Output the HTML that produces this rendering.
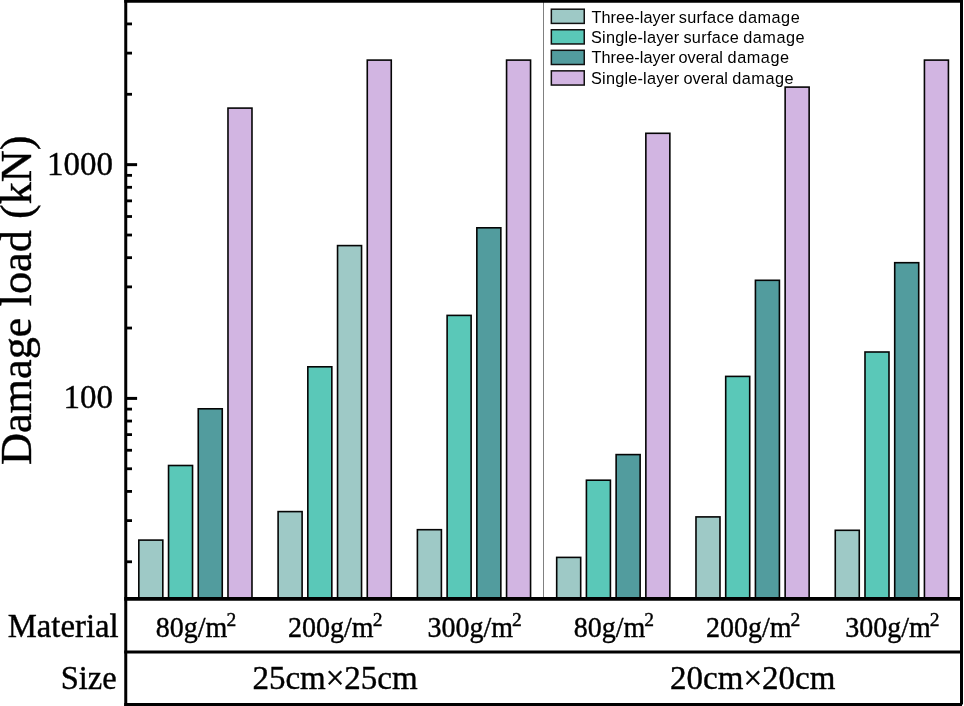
<!DOCTYPE html>
<html><head><meta charset="utf-8"><title>Damage load chart</title>
<style>html,body{margin:0;padding:0;background:#fff;}svg{display:block;will-change:transform;}text{font-family:"Liberation Serif",serif;fill:#000;}.ss{font-family:"Liberation Sans",sans-serif;}</style></head><body>
<svg width="964" height="706" viewBox="0 0 964 706">
<rect x="0" y="0" width="964" height="706" fill="#fff"/>
<line x1="543.5" y1="2" x2="543.5" y2="598" stroke="#808080" stroke-width="1"/>
<rect x="138.82" y="540.10" width="24.00" height="58.80" fill="#9EC9C6" stroke="#050505" stroke-width="1.6"/>
<rect x="168.54" y="465.50" width="24.00" height="133.40" fill="#5AC8B8" stroke="#050505" stroke-width="1.6"/>
<rect x="198.26" y="408.80" width="24.00" height="190.10" fill="#529C9E" stroke="#050505" stroke-width="1.6"/>
<rect x="227.98" y="108.10" width="24.00" height="490.80" fill="#D2B5E2" stroke="#050505" stroke-width="1.6"/>
<rect x="278.11" y="511.60" width="24.00" height="87.30" fill="#9EC9C6" stroke="#050505" stroke-width="1.6"/>
<rect x="307.83" y="366.80" width="24.00" height="232.10" fill="#5AC8B8" stroke="#050505" stroke-width="1.6"/>
<rect x="337.55" y="245.60" width="24.00" height="353.30" fill="#9EC9C6" stroke="#050505" stroke-width="1.6"/>
<rect x="367.27" y="60.10" width="24.00" height="538.80" fill="#D2B5E2" stroke="#050505" stroke-width="1.6"/>
<rect x="417.40" y="529.70" width="24.00" height="69.20" fill="#9EC9C6" stroke="#050505" stroke-width="1.6"/>
<rect x="447.12" y="315.40" width="24.00" height="283.50" fill="#5AC8B8" stroke="#050505" stroke-width="1.6"/>
<rect x="476.84" y="227.80" width="24.00" height="371.10" fill="#529C9E" stroke="#050505" stroke-width="1.6"/>
<rect x="506.56" y="60.10" width="24.00" height="538.80" fill="#D2B5E2" stroke="#050505" stroke-width="1.6"/>
<rect x="556.69" y="557.40" width="24.00" height="41.50" fill="#9EC9C6" stroke="#050505" stroke-width="1.6"/>
<rect x="586.41" y="480.20" width="24.00" height="118.70" fill="#5AC8B8" stroke="#050505" stroke-width="1.6"/>
<rect x="616.13" y="454.60" width="24.00" height="144.30" fill="#529C9E" stroke="#050505" stroke-width="1.6"/>
<rect x="645.85" y="133.30" width="24.00" height="465.60" fill="#D2B5E2" stroke="#050505" stroke-width="1.6"/>
<rect x="695.98" y="516.90" width="24.00" height="82.00" fill="#9EC9C6" stroke="#050505" stroke-width="1.6"/>
<rect x="725.70" y="376.40" width="24.00" height="222.50" fill="#5AC8B8" stroke="#050505" stroke-width="1.6"/>
<rect x="755.42" y="280.30" width="24.00" height="318.60" fill="#529C9E" stroke="#050505" stroke-width="1.6"/>
<rect x="785.14" y="87.10" width="24.00" height="511.80" fill="#D2B5E2" stroke="#050505" stroke-width="1.6"/>
<rect x="835.27" y="530.30" width="24.00" height="68.60" fill="#9EC9C6" stroke="#050505" stroke-width="1.6"/>
<rect x="864.99" y="352.00" width="24.00" height="246.90" fill="#5AC8B8" stroke="#050505" stroke-width="1.6"/>
<rect x="894.71" y="262.70" width="24.00" height="336.20" fill="#529C9E" stroke="#050505" stroke-width="1.6"/>
<rect x="924.43" y="60.10" width="24.00" height="538.80" fill="#D2B5E2" stroke="#050505" stroke-width="1.6"/>
<line x1="125.75" y1="561.78" x2="132.00" y2="561.78" stroke="#000" stroke-width="2.8"/>
<line x1="125.75" y1="520.62" x2="132.00" y2="520.62" stroke="#000" stroke-width="2.8"/>
<line x1="125.75" y1="491.42" x2="132.00" y2="491.42" stroke="#000" stroke-width="2.8"/>
<line x1="125.75" y1="468.77" x2="132.00" y2="468.77" stroke="#000" stroke-width="2.8"/>
<line x1="125.75" y1="450.26" x2="132.00" y2="450.26" stroke="#000" stroke-width="2.8"/>
<line x1="125.75" y1="434.61" x2="132.00" y2="434.61" stroke="#000" stroke-width="2.8"/>
<line x1="125.75" y1="421.05" x2="132.00" y2="421.05" stroke="#000" stroke-width="2.8"/>
<line x1="125.75" y1="409.10" x2="132.00" y2="409.10" stroke="#000" stroke-width="2.8"/>
<line x1="125.75" y1="328.03" x2="132.00" y2="328.03" stroke="#000" stroke-width="2.8"/>
<line x1="125.75" y1="286.87" x2="132.00" y2="286.87" stroke="#000" stroke-width="2.8"/>
<line x1="125.75" y1="257.67" x2="132.00" y2="257.67" stroke="#000" stroke-width="2.8"/>
<line x1="125.75" y1="235.02" x2="132.00" y2="235.02" stroke="#000" stroke-width="2.8"/>
<line x1="125.75" y1="216.51" x2="132.00" y2="216.51" stroke="#000" stroke-width="2.8"/>
<line x1="125.75" y1="200.86" x2="132.00" y2="200.86" stroke="#000" stroke-width="2.8"/>
<line x1="125.75" y1="187.30" x2="132.00" y2="187.30" stroke="#000" stroke-width="2.8"/>
<line x1="125.75" y1="175.35" x2="132.00" y2="175.35" stroke="#000" stroke-width="2.8"/>
<line x1="125.75" y1="94.28" x2="132.00" y2="94.28" stroke="#000" stroke-width="2.8"/>
<line x1="125.75" y1="53.12" x2="132.00" y2="53.12" stroke="#000" stroke-width="2.8"/>
<line x1="125.75" y1="23.92" x2="132.00" y2="23.92" stroke="#000" stroke-width="2.8"/>
<line x1="125.75" y1="398.40" x2="137.10" y2="398.40" stroke="#000" stroke-width="3"/>
<line x1="125.75" y1="164.65" x2="137.10" y2="164.65" stroke="#000" stroke-width="3"/>
<line x1="125.75" y1="0" x2="125.75" y2="706" stroke="#000" stroke-width="3"/>
<line x1="961.50" y1="0" x2="961.50" y2="704.5" stroke="#000" stroke-width="3"/>
<line x1="124.25" y1="1.30" x2="963.00" y2="1.30" stroke="#000" stroke-width="3"/>
<line x1="124.25" y1="598.90" x2="963.00" y2="598.90" stroke="#000" stroke-width="3.6"/>
<line x1="124.25" y1="652.00" x2="963.00" y2="652.00" stroke="#000" stroke-width="2.8"/>
<line x1="124.25" y1="704.50" x2="962.00" y2="704.50" stroke="#000" stroke-width="3"/>
<text transform="translate(113.00,174.55) scale(1.0000,1.0500)" font-size="33" text-anchor="end" stroke="#000" stroke-width="0.4">1000</text>
<text transform="translate(113.00,408.30) scale(1.0000,1.0500)" font-size="33" text-anchor="end" stroke="#000" stroke-width="0.4">100</text>
<text transform="translate(31.1,300.25) rotate(-90)" font-size="44.3" text-anchor="middle" stroke="#000" stroke-width="0.4">Damage load (kN)</text>
<text transform="translate(118.60,636.60) scale(0.9920,1.0300)" font-size="33" text-anchor="end" stroke="#000" stroke-width="0.4">Material</text>
<text transform="translate(116.60,689.10) scale(0.9850,1.0300)" font-size="33" text-anchor="end" stroke="#000" stroke-width="0.4">Size</text>
<text transform="translate(196.00,637.00) scale(1.0000,1.0200)" font-size="28.0" text-anchor="middle" stroke="#000" stroke-width="0.4">80g/m<tspan font-size="19.5" dy="-10.8" dx="-0.9">2</tspan></text>
<text transform="translate(335.29,637.00) scale(1.0000,1.0200)" font-size="28.0" text-anchor="middle" stroke="#000" stroke-width="0.4">200g/m<tspan font-size="19.5" dy="-10.8" dx="-0.9">2</tspan></text>
<text transform="translate(474.58,637.00) scale(1.0000,1.0200)" font-size="28.0" text-anchor="middle" stroke="#000" stroke-width="0.4">300g/m<tspan font-size="19.5" dy="-10.8" dx="-0.9">2</tspan></text>
<text transform="translate(613.87,637.00) scale(1.0000,1.0200)" font-size="28.0" text-anchor="middle" stroke="#000" stroke-width="0.4">80g/m<tspan font-size="19.5" dy="-10.8" dx="-0.9">2</tspan></text>
<text transform="translate(753.16,637.00) scale(1.0000,1.0200)" font-size="28.0" text-anchor="middle" stroke="#000" stroke-width="0.4">200g/m<tspan font-size="19.5" dy="-10.8" dx="-0.9">2</tspan></text>
<text transform="translate(892.45,637.00) scale(1.0000,1.0200)" font-size="28.0" text-anchor="middle" stroke="#000" stroke-width="0.4">300g/m<tspan font-size="19.5" dy="-10.8" dx="-0.9">2</tspan></text>
<text transform="translate(335.00,688.80) scale(1.0000,1.0000)" font-size="33" text-anchor="middle" stroke="#000" stroke-width="0.4">25cm×25cm</text>
<text transform="translate(752.70,688.80) scale(1.0000,1.0000)" font-size="33" text-anchor="middle" stroke="#000" stroke-width="0.4">20cm×20cm</text>
<rect x="551.35" y="9.20" width="32.9" height="14.2" fill="#9EC9C6" stroke="#111" stroke-width="1.5"/>
<text class="ss" x="591.45" y="22.70" font-size="16.3" textLength="83.75" lengthAdjust="spacing">Three-layer</text>
<text class="ss" x="678.70" y="22.70" font-size="16.3" textLength="55.30" lengthAdjust="spacing">surface</text>
<text class="ss" x="738.30" y="22.70" font-size="16.3" textLength="61.45" lengthAdjust="spacing">damage</text>
<rect x="551.35" y="29.75" width="32.9" height="14.2" fill="#5AC8B8" stroke="#111" stroke-width="1.5"/>
<text class="ss" x="591.00" y="43.00" font-size="16.3" textLength="88.20" lengthAdjust="spacing">Single-layer</text>
<text class="ss" x="683.40" y="43.00" font-size="16.3" textLength="55.30" lengthAdjust="spacing">surface</text>
<text class="ss" x="743.20" y="43.00" font-size="16.3" textLength="61.45" lengthAdjust="spacing">damage</text>
<rect x="551.35" y="50.30" width="32.9" height="14.2" fill="#529C9E" stroke="#111" stroke-width="1.5"/>
<text class="ss" x="591.45" y="63.30" font-size="16.3" textLength="83.75" lengthAdjust="spacing">Three-layer</text>
<text class="ss" x="678.50" y="63.30" font-size="16.3" textLength="44.30" lengthAdjust="spacing">overal</text>
<text class="ss" x="727.60" y="63.30" font-size="16.3" textLength="61.45" lengthAdjust="spacing">damage</text>
<rect x="551.35" y="70.85" width="32.9" height="14.2" fill="#D2B5E2" stroke="#111" stroke-width="1.5"/>
<text class="ss" x="591.00" y="83.60" font-size="16.3" textLength="88.20" lengthAdjust="spacing">Single-layer</text>
<text class="ss" x="683.50" y="83.60" font-size="16.3" textLength="44.30" lengthAdjust="spacing">overal</text>
<text class="ss" x="732.20" y="83.60" font-size="16.3" textLength="61.45" lengthAdjust="spacing">damage</text>
</svg></body></html>
